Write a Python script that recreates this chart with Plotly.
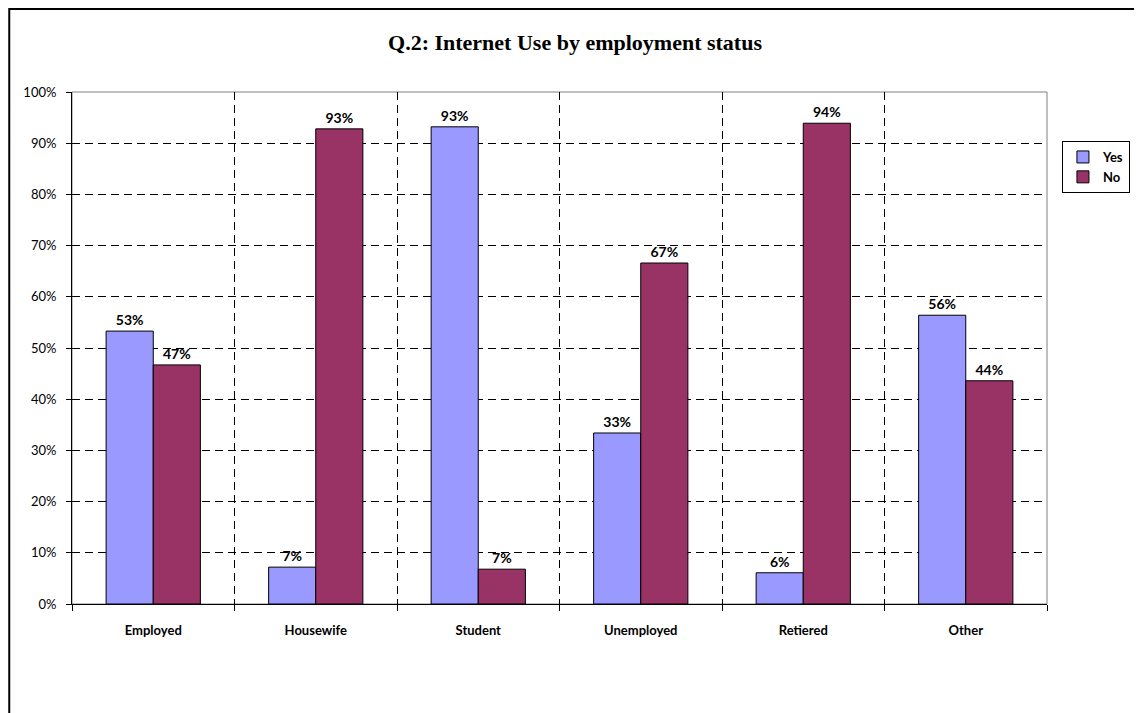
import plotly.graph_objects as go

categories = ["Employed", "Housewife", "Student", "Unemployed", "Retiered", "Other"]
yes_values = [0.533, 0.072, 0.932, 0.334, 0.061, 0.564]
no_values = [0.467, 0.928, 0.068, 0.666, 0.939, 0.436]
yes_labels = ["53%", "7%", "93%", "33%", "6%", "56%"]
no_labels = ["47%", "93%", "7%", "67%", "94%", "44%"]
y_ticks = [0, 0.1, 0.2, 0.3, 0.4, 0.5, 0.6, 0.7, 0.8, 0.9, 1.0]
boundaries = [-0.5, 0.5, 1.5, 2.5, 3.5, 4.5, 5.5]

FONT = "Lato, 'Open Sans', sans-serif"
DASH = "8px,5px"

W, H = 1134, 705
L, R, T, B = 64, 91, 84, 109
PW, PH = W - L - R, H - T - B

fig = go.Figure()
fig.add_trace(go.Bar(
    name="Yes", x=categories, y=yes_values, text=yes_labels,
    marker=dict(color="#9999FF", line=dict(color="#000000", width=1)),
    textposition="outside", cliponaxis=False,
    textfont=dict(family=FONT, size=14, color="#000000", weight="bold"),
))
fig.add_trace(go.Bar(
    name="No", x=categories, y=no_values, text=no_labels,
    marker=dict(color="#993366", line=dict(color="#000000", width=1)),
    textposition="outside", cliponaxis=False,
    textfont=dict(family=FONT, size=14, color="#000000", weight="bold"),
))
# invisible helper trace for the boundary grid axis
fig.add_trace(go.Scatter(x=boundaries, y=[None] * len(boundaries), xaxis="x2",
                         mode="markers", showlegend=False, hoverinfo="skip"))

fig.update_layout(
    width=W, height=H,
    margin=dict(l=L, r=R, t=T, b=B),
    paper_bgcolor="white", plot_bgcolor="white",
    barmode="group", bargap=0.42, bargroupgap=0,
    title=dict(text="<b>Q.2: Internet Use by employment status</b>",
               x=0.5, xanchor="center", y=1 - 34 / H, yanchor="middle",
               font=dict(family="'Liberation Serif', 'DejaVu Serif', serif", size=22, color="#000000")),
    font=dict(family=FONT, color="#000000"),
    legend=dict(x=(1058 - L) / PW, y=(596 - 133) / PH, xanchor="left", yanchor="top",
                bordercolor="#000000", borderwidth=1, bgcolor="white",
                font=dict(family=FONT, size=13, weight="bold"),
                itemwidth=30, traceorder="normal"),
    xaxis=dict(type="category", range=[-0.5, 5.5], showgrid=False,
               showline=True, linecolor="#000000", linewidth=1,
               ticks="", ticklabelstandoff=14,
               tickfont=dict(family=FONT, size=13, weight="bold", color="#000000")),
    xaxis2=dict(overlaying="x", range=[-0.5, 5.5], tickvals=boundaries, showticklabels=False,
                showgrid=True, gridcolor="#000000", griddash=DASH, gridwidth=1,
                ticks="outside", ticklen=6, tickcolor="#000000", zeroline=False,
                showline=False, side="bottom"),
    yaxis=dict(range=[0, 1], tickvals=y_ticks, tickformat=".0%",
               showgrid=True, gridcolor="#000000", griddash=DASH, gridwidth=1,
               showline=True, linecolor="#000000", linewidth=1,
               ticks="outside", ticklen=5, tickcolor="#000000", zeroline=False,
               ticklabelstandoff=7,
               tickfont=dict(family=FONT, size=13, color="#000000")),
    shapes=[
        dict(type="rect", xref="paper", yref="paper", x0=0, x1=1, y0=0, y1=1,
             line=dict(color="#808080", width=1), layer="below"),
        dict(type="rect", xref="paper", yref="paper",
             x0=(1 - L) / PW, x1=(W + 20 - L) / PW,
             y0=-(B + 20) / PH, y1=(PH + T - 1) / PH,
             line=dict(color="#000000", width=2), layer="below"),
    ],
)

fig.write_html("out.html")
